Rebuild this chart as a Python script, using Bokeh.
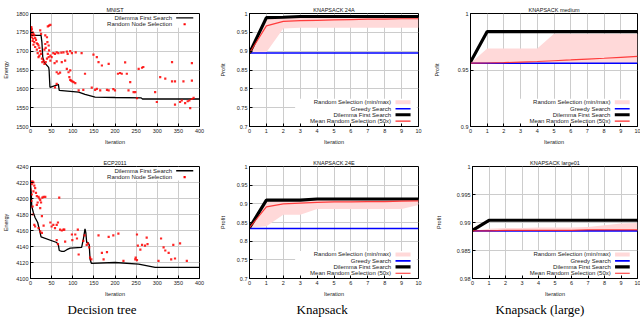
from bokeh.plotting import figure
from bokeh.layouts import column, row
from bokeh.models import Range1d, FixedTicker, Title
from bokeh.core.properties import value
from bokeh.embed import file_html
from bokeh.resources import INLINE

SANS = "Liberation Sans"
SERIF = "Liberation Serif"
PINK = "#ffd9d9"
RED = "#ff2a2a"
BLUE = "#0000ff"

# ---------------- data ----------------
mnist_x_ticks = [0, 50, 100, 150, 200, 250, 300, 350, 400]
mnist_x_labels = ["0", "50", "100", "150", "200", "250", "300", "350", "400"]
mnist_y_ticks = [1500, 1550, 1600, 1650, 1700, 1750, 1800]
mnist_y_labels = ["1500", "1550", "1600", "1650", "1700", "1750", "1800"]
ecp_y_ticks = [4100, 4120, 4140, 4160, 4180, 4200, 4220, 4240]
ecp_y_labels = ["4100", "4120", "4140", "4160", "4180", "4200", "4220", "4240"]

knap_x_ticks = [0, 1, 2, 3, 4, 5, 6, 7, 8, 9, 10]
knap_x_labels = ["0", "1", "2", "3", "4", "5", "6", "7", "8", "9", "10"]
k24_y_ticks = [0.7, 0.75, 0.8, 0.85, 0.9, 0.95, 1.0]
k24_y_labels = ["0.7", "0.75", "0.8", "0.85", "0.9", "0.95", "1"]
med_y_ticks = [0.9, 0.95, 1.0]
med_y_labels = ["0.9", "0.95", "1"]
lg_y_ticks = [0.98, 0.985, 0.99, 0.995, 1.0]
lg_y_labels = ["0.98", "0.985", "0.99", "0.995", "1"]

tree_labels = ["Dilemma First Search", "Random Node Selection"]
knap_labels = ["Random Selection (min/max)", "Greedy Search",
               "Dilemma First Search", "Mean Random Selection (50x)"]
captions = ["Decision tree", "Knapsack", "Knapsack (large)"]

mnist_dfs_x = [0, 1, 25, 27, 29, 32, 43, 44, 46, 62, 66, 68, 114, 129, 153, 200, 262, 265, 400]
mnist_dfs_y = [1765, 1742, 1742, 1724, 1684, 1671, 1657, 1650, 1604, 1610, 1612, 1596, 1591,
               1585, 1578, 1577, 1576, 1573, 1573]

mnist_random = [
    (2, 1764), (3, 1759), (2, 1755), (5, 1750), (7, 1746), (2, 1744), (9, 1742), (3, 1737), (11, 1735), (6, 1733),
    (13, 1730), (5, 1727), (9, 1724), (15, 1721), (17, 1719), (7, 1717), (19, 1715), (11, 1711), (21, 1709), (15, 1704),
    (23, 1700), (17, 1695), (25, 1693), (21, 1688), (19, 1684), (27, 1680), (31, 1675), (28, 1671), (33, 1666), (23, 1755),
    (25, 1746), (41, 1766), (44, 1768), (47, 1770), (35, 1742), (39, 1737), (40, 1724), (35, 1719), (43, 1715), (36, 1709),
    (33, 1704), (44, 1702), (41, 1693), (47, 1688), (50, 1684), (39, 1680), (47, 1675), (54, 1695), (58, 1693), (62, 1697),
    (66, 1695), (73, 1696), (78, 1697), (86, 1699), (88, 1693), (94, 1700), (98, 1695), (107, 1697), (121, 1695), (149, 1691),
    (157, 1684), (161, 1671), (169, 1662), (185, 1666), (224, 1670), (256, 1653), (264, 1656), (267, 1658), (335, 1671), (382, 1668),
    (36, 1671), (57, 1668), (62, 1673), (74, 1671), (82, 1675), (86, 1653), (94, 1649), (90, 1644), (62, 1644), (66, 1640),
    (70, 1643), (92, 1631), (94, 1624), (96, 1622), (99, 1620), (102, 1618), (106, 1615), (114, 1596), (125, 1597), (129, 1640),
    (145, 1603), (153, 1597), (157, 1600), (165, 1596), (181, 1597), (185, 1596), (196, 1599), (200, 1596), (207, 1640), (212, 1642),
    (216, 1640), (228, 1640), (232, 1596), (236, 1618), (244, 1591), (248, 1591), (252, 1575), (295, 1591), (307, 1631), (319, 1627),
    (335, 1620), (342, 1620), (362, 1620), (382, 1622), (299, 1565), (342, 1558), (354, 1565), (358, 1569), (366, 1562), (372, 1567),
    (376, 1569), (378, 1549), (382, 1573), (386, 1576), (62, 1613), (58, 1604), (43, 1684),
]

ecp_dfs_x = [0, 2, 3, 7, 11, 17, 21, 25, 62, 66, 68, 74, 80, 86, 94, 121, 125, 129, 131, 133,
             136, 139, 141, 144, 200, 256, 295, 400]
ecp_dfs_y = [4218, 4205, 4190, 4182, 4176, 4170, 4161, 4152, 4145, 4142, 4135, 4134, 4134, 4136,
             4138, 4139, 4149, 4162, 4157, 4145, 4145, 4142, 4124, 4119, 4120, 4118, 4114, 4114]

ecp_random = [
    (2, 4221), (5, 4221), (7, 4220), (3, 4218), (9, 4216), (11, 4213), (0, 4211), (7, 4209), (13, 4207), (3, 4205),
    (15, 4203), (19, 4202), (21, 4200), (23, 4198), (2, 4197), (17, 4195), (25, 4195), (28, 4201), (31, 4202), (35, 4202),
    (5, 4190), (15, 4192), (23, 4188), (27, 4178), (5, 4180), (9, 4167), (11, 4165), (19, 4163), (23, 4159), (27, 4157),
    (31, 4166), (47, 4170), (50, 4165), (54, 4167), (58, 4163), (62, 4167), (65, 4170), (70, 4161), (74, 4160), (78, 4161),
    (80, 4161), (68, 4201), (98, 4155), (112, 4161), (106, 4155), (110, 4150), (99, 4148), (62, 4148), (82, 4146), (65, 4143),
    (125, 4147), (128, 4154), (133, 4142), (136, 4144), (139, 4139), (141, 4126), (144, 4124), (114, 4130), (161, 4154), (185, 4152),
    (196, 4154), (208, 4156), (169, 4132), (181, 4133), (173, 4124), (220, 4122), (252, 4155), (254, 4141), (260, 4136), (264, 4142),
    (271, 4141), (277, 4143), (275, 4151), (249, 4126), (252, 4123), (248, 4124), (303, 4122), (309, 4150), (315, 4139), (319, 4135),
    (327, 4132), (333, 4124), (338, 4142), (342, 4125), (354, 4144), (370, 4122),
]

iterations = [0, 1, 2, 3, 4, 5, 6, 7, 8, 9, 10]

k24a_greedy = [0.895] * 11
k24a_dfs = [0.895, 0.989, 0.990, 0.992, 0.992, 0.992, 0.992, 0.992, 0.992, 0.992, 0.992]
k24a_mean = [0.895, 0.967, 0.979, 0.981, 0.982, 0.983, 0.984, 0.985, 0.985, 0.986, 0.986]
k24a_min = [0.895, 0.897, 0.960, 0.962, 0.962, 0.962, 0.962, 0.962, 0.962, 0.962, 0.962]
k24a_max = [0.895, 0.989, 0.990, 0.991, 0.991, 0.991, 0.991, 0.991, 0.991, 0.991, 0.991]

k24e_greedy = [0.834] * 11
k24e_dfs = [0.836, 0.910, 0.910, 0.910, 0.913, 0.913, 0.913, 0.913, 0.913, 0.913, 0.913]
k24e_mean = [0.836, 0.892, 0.900, 0.902, 0.904, 0.905, 0.905, 0.906, 0.906, 0.907, 0.908]
k24e_min = [0.836, 0.840, 0.871, 0.871, 0.886, 0.886, 0.886, 0.886, 0.886, 0.886, 0.897]
k24e_max = [0.836, 0.908, 0.909, 0.910, 0.911, 0.911, 0.911, 0.912, 0.912, 0.912, 0.912]

med_greedy = [0.956] * 11
med_dfs = [0.957, 0.984, 0.984, 0.984, 0.984, 0.984, 0.984, 0.984, 0.984, 0.984, 0.984]
med_mean = [0.956, 0.9562, 0.9565, 0.957, 0.9575, 0.9582, 0.9589, 0.9597, 0.9604, 0.9612, 0.962]
med_min = [0.956] * 11
med_max = [0.956, 0.969, 0.969, 0.969, 0.969, 0.982, 0.982, 0.982, 0.982, 0.982, 0.982]

lg_greedy = [0.9885] * 11
lg_dfs = [0.9886, 0.9904, 0.9904, 0.9904, 0.9904, 0.9904, 0.9904, 0.9904, 0.9904, 0.9904, 0.9904]
lg_mean = [0.9885, 0.9885, 0.9886, 0.9886, 0.9886, 0.9886, 0.9886, 0.9887, 0.9887, 0.9887, 0.9887]
lg_min = [0.9885] * 11
lg_max = [0.9885, 0.9889, 0.9890, 0.9890, 0.9891, 0.9891, 0.9891, 0.9892, 0.9895, 0.9898, 0.9899]


# ---------------- helpers ----------------
def fx(rng, f):
    return rng[0] + f * (rng[1] - rng[0])


def make_fig(width, height, xr, yr, xt, xl, yt, yl, title, ylabel, borders, ylab_standoff):
    left, right, top, bottom = borders
    p = figure(width=width, height=height, x_range=Range1d(*xr), y_range=Range1d(*yr),
               output_backend="svg", toolbar_location=None,
               min_border_left=left, min_border_right=right,
               min_border_top=top, min_border_bottom=bottom)
    p.title.text = title
    p.title.align = "center"
    p.title.text_font = SANS
    p.title.text_font_size = "5.5px"
    p.title.text_font_style = "normal"
    p.title.text_color = "#111111"
    p.title.standoff = 2
    p.xaxis.ticker = FixedTicker(ticks=xt)
    p.xaxis.major_label_overrides = dict(zip(xt, xl))
    p.yaxis.ticker = FixedTicker(ticks=yt)
    p.yaxis.major_label_overrides = dict(zip(yt, yl))
    p.xaxis.axis_label = "Iteration"
    p.yaxis.axis_label = ylabel
    for ax in (p.xaxis, p.yaxis):
        ax.axis_label_text_font = SANS
        ax.axis_label_text_font_size = "5.5px"
        ax.axis_label_text_font_style = "normal"
        ax.axis_label_text_color = "#222222"
        ax.major_label_text_font = SANS
        ax.major_label_text_font_size = "5.5px"
        ax.major_label_text_color = "#222222"
        ax.major_tick_in = 3
        ax.major_tick_out = 0
        ax.minor_tick_in = 0
        ax.minor_tick_out = 0
        ax.major_label_standoff = 2
        ax.axis_line_color = "black"
        ax.major_tick_line_color = "black"
    p.xaxis.axis_label_standoff = 3
    p.yaxis.axis_label_standoff = ylab_standoff
    p.grid.grid_line_color = "#cccccc"
    p.grid.grid_line_width = 1
    p.outline_line_color = "black"
    p.outline_line_width = 1
    p.outline_line_alpha = 1
    p.background_fill_color = "white"
    p.border_fill_color = "white"
    return p


def text_at(p, x, y, s):
    p.text(x=[x], y=[y], text=[s], text_align="right", text_baseline="middle",
           text_font=value(SANS), text_font_size="6px", text_color="#222222")


def tree_key(p, xr, yr, labels):
    p.quad(left=[fx(xr, 0.48)], right=[fx(xr, 0.99)], bottom=[fx(yr, 0.875)], top=[fx(yr, 0.995)],
           fill_color="white", line_color=None)
    rows = [0.962, 0.905]
    tx, s0, s1 = 0.838, 0.862, 0.963
    text_at(p, fx(xr, tx), fx(yr, rows[0]), labels[0])
    p.line([fx(xr, s0), fx(xr, s1)], [fx(yr, rows[0])] * 2, line_color="black", line_width=1.3)
    text_at(p, fx(xr, tx), fx(yr, rows[1]), labels[1])
    p.scatter([fx(xr, 0.912)], [fx(yr, rows[1])], marker="square", size=2.2,
              fill_color="#ff0000", line_color=None)


def knap_key(p, xr, yr, labels):
    p.quad(left=[fx(xr, 0.27)], right=[fx(xr, 0.99)], bottom=[fx(yr, 0.005)], top=[fx(yr, 0.245)],
           fill_color="white", line_color=None)
    rows = [0.215, 0.157, 0.104, 0.047]
    tx, s0, s1 = 0.838, 0.864, 0.953
    for lab, r in zip(labels, rows):
        text_at(p, fx(xr, tx), fx(yr, r), lab)
    r = rows[0]
    p.quad(left=[fx(xr, s0)], right=[fx(xr, s1)], bottom=[fx(yr, r - 0.018)], top=[fx(yr, r + 0.018)],
           fill_color=PINK, line_color=None)
    p.line([fx(xr, s0), fx(xr, s1)], [fx(yr, rows[1])] * 2, line_color=BLUE, line_width=1.6)
    p.line([fx(xr, s0), fx(xr, s1)], [fx(yr, rows[2])] * 2, line_color="black", line_width=3.2)
    p.line([fx(xr, s0), fx(xr, s1)], [fx(yr, rows[3])] * 2, line_color=RED, line_width=1.2)


def add_caption(p, text, off):
    t = Title(text=text, align="left", offset=off, text_font=SERIF, text_font_size="13px",
              text_font_style="normal", text_color="black", standoff=0)
    p.add_layout(t, "below")


def tree_panel(width, height, borders, yr, yt, yl, title, dfs_x, dfs_y, rnd, caption=None, cap_off=0):
    xr = (0, 400)
    p = make_fig(width, height, xr, yr, mnist_x_ticks, mnist_x_labels, yt, yl, title, "Energy", borders, 4)
    tree_key(p, xr, yr, tree_labels)
    p.line(dfs_x, dfs_y, line_color="black", line_width=1.3)
    rx = [a for a, b in rnd]
    ry = [b for a, b in rnd]
    p.scatter(rx, ry, marker="square", size=2.2, fill_color="#ff0000", fill_alpha=0.85, line_color=None)
    if caption:
        add_caption(p, caption, cap_off)
    return p


def knap_panel(width, height, borders, yr, yt, yl, title, mn, mx, greedy, dfs, mean, standoff,
               caption=None, cap_off=0):
    xr = (0, 10)
    p = make_fig(width, height, xr, yr, knap_x_ticks, knap_x_labels, yt, yl, title, "Profit", borders, standoff)
    knap_key(p, xr, yr, knap_labels)
    p.varea(x=iterations, y1=mn, y2=mx, fill_color=PINK)
    p.line(iterations, greedy, line_color=BLUE, line_width=1.6)
    p.line(iterations, dfs, line_color="black", line_width=3.2)
    p.line(iterations, mean, line_color=RED, line_width=1.2, line_alpha=0.9)
    if caption:
        add_caption(p, caption, cap_off)
    return p


# ---------------- layout ----------------
W1, W2, W3 = 215, 215, 210
H1, H2 = 150, 176
B1 = (30, 16, 13, 24)
B2 = (34, 12, 13, 24)
B3 = (38, 3, 13, 24)
B4 = (30, 16, 16, 48)
B5 = (34, 12, 16, 48)
B6 = (42, 3, 16, 48)

p1 = tree_panel(W1, H1, B1, (1500, 1800), mnist_y_ticks, mnist_y_labels, "MNIST",
                mnist_dfs_x, mnist_dfs_y, mnist_random)
p2 = knap_panel(W2, H1, B2, (0.7, 1.0), k24_y_ticks, k24_y_labels, "KNAPSACK 24A",
                k24a_min, k24a_max, k24a_greedy, k24a_dfs, k24a_mean, 8)
p3 = knap_panel(W3, H1, B3, (0.9, 1.0), med_y_ticks, med_y_labels, "KNAPSACK medium",
                med_min, med_max, med_greedy, med_dfs, med_mean, 15)
p4 = tree_panel(W1, H2, B4, (4100, 4240), ecp_y_ticks, ecp_y_labels, "ECP2011",
                ecp_dfs_x, ecp_dfs_y, ecp_random, captions[0], 37)
p5 = knap_panel(W2, H2, B5, (0.7, 1.0), k24_y_ticks, k24_y_labels, "KNAPSACK 24E",
                k24e_min, k24e_max, k24e_greedy, k24e_dfs, k24e_mean, 8, captions[1], 47)
p6 = knap_panel(W3, H2, B6, (0.98, 1.0), lg_y_ticks, lg_y_labels, "KNAPSACK large01",
                lg_min, lg_max, lg_greedy, lg_dfs, lg_mean, 12, captions[2], 23)

layout = column(row(p1, p2, p3), row(p4, p5, p6))

open("out.html", "w").write(file_html(layout, INLINE))
